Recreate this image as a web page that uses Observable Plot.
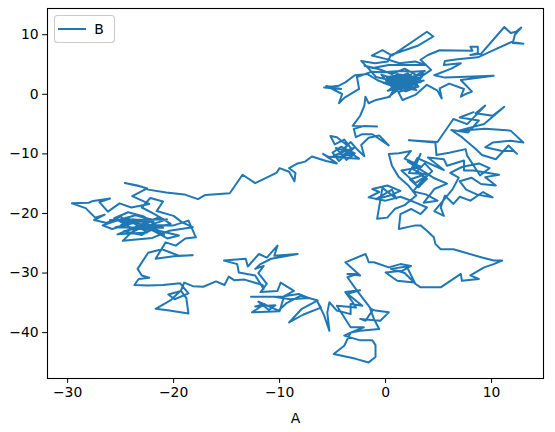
<!DOCTYPE html>
<html>
<head>
<meta charset="utf-8">
<script src="https://cdn.jsdelivr.net/npm/d3@7"></script>
<script src="https://cdn.jsdelivr.net/npm/@observablehq/plot@0.6"></script>
<style>
  html, body { margin: 0; padding: 0; background: #fff; }
  #chart { position: relative; width: 555px; height: 432px; }
</style>
</head>
<body>
<div id="chart"></div>
<script>
// Random walk (A, B), in segments.
const walkTop = [
  [0.3,-0.4],[1.2,0.8],[0.5,1.9],[1.8,2.4],[0.9,3.1],[2.3,1.7],[1.4,1.0],[2.6,2.6],[1.1,3.4],[0.2,2.2],
  [1.6,1.5],[2.9,2.0],[2.1,3.5],[0.7,2.6],[-0.4,3.3],[0.6,1.2],[1.9,0.5],[3.1,1.3],[2.4,2.9],[3.6,3.4],
  [2.7,1.1],[1.5,2.2],[0.3,1.6],[-0.8,2.4],[-1.7,3.4],[-2.9,3.2],[-3.8,2.0],[-4.4,1.45],[-5.8,1.15],[-4.2,0.9],
  [-5.6,1.4],[-4.1,0.05],[-4.4,-1.5],[-3.9,-0.6],[-2.5,0.9],[-2.7,2.9],[-1.3,3.8],[-0.2,3.7],[1.3,3.9],[2.6,3.8],
  [3.7,3.9],[2.9,3.2],[1.8,4.3],[0.6,3.4],[-0.6,4.2],[-2.0,4.8],[-1.2,4.4],[0.3,4.9],[2.0,4.9],[3.8,4.9],
  [2.8,5.5],[1.3,5.2],[0.1,5.9],[-1.3,6.5],[-0.3,7.4],[0.6,6.5],[3.9,10.5],[4.5,9.7],[3.1,8.2],[0.5,6.6],
  [0.2,5.5],[-1.0,5.2],[-2.3,5.6],[-1.6,4.3],[-0.9,2.9],[0.4,2.4],[1.4,2.9],[0.8,1.8],[2.2,1.2],[3.0,2.5],
  [1.7,3.0],[0.6,2.0],[2.0,2.7],[1.2,1.6],[2.8,1.6],[1.5,3.3],[0.1,2.9],[1.0,1.3],[2.5,2.2],[3.4,2.8],
  [1.0,2.6],[3.3,2.0],[0.4,3.0],[2.9,0.7],[0.9,1.4],[3.6,2.3],[0.2,0.6],[2.4,3.3],[-0.2,1.9],[1.7,1.0],
  [4.3,4.1],[3.3,5.8],[4.0,6.6],[5.1,7.4],[8.2,7.3],[8.0,8.0],[8.7,8.0],[8.7,6.9],[8.0,6.6],[9.0,6.8],
  [11.2,11.3],[11.8,10.3],[12.3,10.5],[12.8,11.2],[12.2,10.0],[12.0,8.6],[13.0,8.5],[11.9,8.8],[8.7,6.2],[6.8,5.9],
  [5.6,5.6],[5.5,4.9],[7.1,5.2],[6.2,4.3],[4.6,3.2],[5.6,2.8],[10.2,3.1],[7.1,2.4],[8.15,0.45],[7.5,0.0],
  [7.1,-0.4],[7.4,0.9],[6.0,1.8],[5.1,1.0],[5.3,-0.7],[4.9,0.6],[3.9,1.6],[2.8,-0.1],[1.6,-0.95],[1.2,0.4],
  [2.2,0.9],[1.0,2.1],[1.9,1.4],[0.7,0.6],[0.4,-0.4],[-0.9,-0.95],[-1.6,-1.5],[-1.9,-0.4],[-2.0,-1.9],[-2.4,-3.6],
  [-3.1,-5.3],[-0.8,-5.4]
];
const walkMid = [
  [-2.0,-5.3],[-3.0,-5.8],[-2.8,-7.2],[-2.2,-6.7],[-1.25,-6.7],[0.3,-8.6],[-0.6,-6.9],[-1.6,-7.3],[-2.3,-8.5],[-2.0,-10.4],
  [-2.6,-9.4],[-3.3,-8.0],[-4.0,-9.2],[-3.1,-10.3],[-4.4,-10.0],[-3.6,-8.6],[-4.6,-7.2],[-5.2,-7.0],[-4.8,-8.4],[-3.9,-7.6],
  [-3.2,-9.2],[-4.3,-10.6],[-2.5,-10.8],[-3.5,-9.6],[-4.7,-9.0],[-3.7,-11.0],[-2.9,-9.9],[-4.2,-8.8],[-5.0,-9.8],[-4.4,-11.2],
  [-3.0,-9.0],[-4.9,-10.3],[-3.4,-10.7],[-5.4,-10.5],[-5.9,-10.0],[-4.6,-11.6],[-5.6,-11.2],[-6.95,-10.45]
];
const walkLink = [
  [-7.6,-11.3],[-8.3,-11.6],[-9.1,-12.4],[-8.5,-13.2],[-8.6,-14.6],[-9.1,-13.0],[-10.0,-12.4],[-10.3,-13.2],[-12.3,-14.9],[-13.5,-13.5],
  [-14.7,-16.6],[-17.0,-16.9],[-17.7,-17.6],[-19.0,-16.8],[-20.7,-16.5],[-22.4,-16.0],[-23.0,-15.5],[-24.6,-14.9],[-23.4,-15.3]
];
const walkLeft = [
  [-22.5,-15.8],[-23.9,-17.1],[-22.3,-18.4],[-24.0,-19.0],[-25.1,-18.3],[-26.2,-19.7],[-27.0,-18.1],[-26.0,-17.5],[-27.6,-17.9],[-28.0,-18.2],
  [-29.6,-18.3],[-28.3,-19.1],[-27.4,-20.7],[-26.5,-20.2],[-27.5,-21.1],[-26.3,-21.6],[-25.0,-20.5],[-24.2,-21.8],[-25.8,-22.6],[-26.7,-22.0],
  [-25.2,-21.1],[-23.6,-20.3],[-22.1,-21.0],[-23.3,-22.4],[-24.7,-23.0],[-23.0,-23.6],[-21.5,-22.2],[-22.8,-20.5],[-24.3,-19.8],[-25.6,-20.8],
  [-24.0,-22.4],[-22.2,-22.8],[-20.3,-21.7],[-21.8,-20.1],[-23.0,-19.0],[-22.2,-17.4],[-21.0,-18.0],[-21.6,-19.6],[-20.0,-20.4],[-19.2,-21.5],
  [-18.2,-22.3],[-20.4,-22.9],[-22.0,-24.1],[-24.8,-24.6],[-24.0,-23.2],[-22.6,-22.0],[-21.2,-23.0],[-19.5,-23.7],[-20.6,-24.2],[-21.4,-23.4],
  [-23.5,-21.5],[-25.0,-22.0],[-23.9,-21.0],[-21.9,-21.4],[-24.8,-21.3],[-21.0,-22.4],[-25.5,-22.3],[-22.7,-21.2],[-26.0,-21.1],[-20.6,-21.0],
  [-23.8,-22.8],[-21.3,-20.6],[-25.3,-23.5],[-22.5,-23.2],[-24.5,-20.7],[-20.9,-23.6],[-23.1,-21.9],[-20.0,-22.0],[-18.6,-21.2],[-17.9,-24.0],
  [-18.9,-24.2],[-19.8,-25.4],[-20.75,-24.85],[-21.7,-27.6],[-20.0,-27.2],[-18.2,-27.0],[-19.5,-27.1],[-21.1,-26.0],[-22.4,-26.6],[-23.4,-29.3],
  [-23.0,-30.4],[-22.3,-30.8],[-23.3,-31.0],[-23.7,-32.0]
];
const walkLowLeft = [
  [-22.4,-32.1],[-21.0,-32.0],[-19.4,-31.7],[-18.6,-33.4],[-19.9,-34.4],[-20.5,-33.6],[-19.3,-33.0],[-18.8,-34.2],[-18.6,-36.8],[-20.4,-36.3],
  [-21.7,-36.0],[-20.3,-34.6],[-19.3,-32.9],[-19.0,-31.6],[-18.2,-32.2],[-17.2,-32.3],[-16.0,-31.4],[-15.2,-32.0],[-14.8,-30.6],[-14.3,-31.2],
  [-13.3,-31.1],[-12.4,-31.6],[-11.6,-32.0]
];
const walkLowMid = [
  [-11.5,-32.7],[-12.3,-30.4],[-13.85,-29.9],[-14.0,-28.5],[-15.25,-27.9],[-13.2,-27.6],[-13.0,-28.9],[-11.95,-26.8],[-11.2,-27.4],[-10.2,-25.4],
  [-10.5,-27.1],[-8.3,-26.8],[-10.8,-27.6],[-11.8,-28.5],[-12.3,-29.3],[-11.5,-28.8],[-12.0,-30.0],[-11.2,-31.8],[-11.8,-33.2],[-10.2,-33.0],
  [-9.9,-31.6],[-8.65,-33.0],[-9.6,-33.9],[-8.2,-33.5],[-7.2,-34.2],[-9.0,-34.4],[-10.5,-34.0],[-12.7,-34.0],[-9.6,-34.0],[-10.0,-36.4],
  [-12.6,-36.6],[-11.4,-35.2],[-12.3,-35.6],[-10.4,-35.4],[-11.0,-36.2],[-12.0,-34.8],[-10.1,-36.3],[-9.3,-35.0],[-8.0,-33.8],[-6.4,-34.6],
  [-7.9,-36.0],[-9.1,-38.3],[-7.8,-37.0],[-6.1,-35.8],[-6.4,-34.9],[-5.8,-37.1],[-5.3,-39.7],[-5.5,-36.6],[-5.3,-34.9],[-4.6,-36.3],
  [-3.3,-36.9],[-3.3,-35.2],[-2.2,-35.5],[-3.6,-33.5],[-2.4,-32.9],[-3.8,-33.2],[-3.1,-34.9],[-2.8,-35.8],[-4.6,-35.5],[-3.3,-39.1]
];
const walkBottom = [
  [-2.05,-39.1],[-3.3,-40.0],[-3.9,-40.5],[-2.4,-41.3],[-1.25,-41.3],[-0.95,-42.1],[-0.95,-44.1],[-1.6,-45.0],[-2.8,-44.4],[-4.9,-43.6],
  [-3.9,-42.2],[-3.3,-40.0],[-2.4,-39.7],[-0.6,-39.4],[-1.1,-37.7],[-1.45,-36.0],[-0.95,-36.3],[0.3,-36.6],[-0.5,-38.0],[-2.4,-37.7],
  [-1.9,-38.0],[-1.25,-36.3],[-2.7,-32.95],[-3.6,-30.7],[-2.7,-30.15],[-3.6,-30.15],[-2.4,-30.4],[-3.8,-28.2],[-1.9,-26.8],[-1.7,-27.6],
  [-1.6,-28.2],[-1.1,-28.2],[0.3,-29.05],[1.4,-28.5],[2.4,-28.8],[1.6,-29.6],[0.0,-29.9],[1.1,-31.3],[2.7,-31.6],[1.8,-30.0],
  [0.5,-29.3],[2.0,-28.9],[2.8,-31.8],[3.3,-32.4],[5.2,-32.4],[7.1,-30.15],[7.2,-31.3],[8.8,-31.0],[8.0,-30.4],[9.3,-29.05],
  [10.2,-28.5],[11.0,-27.9],[10.2,-27.9],[9.1,-27.4],[6.4,-26.0],[5.2,-26.0],[4.7,-25.1],[4.55,-24.0],[3.9,-22.9]
];
const walkRight = [
  [3.3,-22.0],[2.8,-22.0],[1.25,-22.6],[1.4,-20.1],[2.4,-19.25],[3.3,-20.1],[3.9,-19.0],[2.6,-18.0],[1.4,-17.2],[0.0,-17.85],
  [-1.6,-17.3],[-0.6,-16.4],[-1.25,-15.9],[0.16,-15.3],[1.4,-16.2],[0.4,-17.0],[-0.9,-17.6],[0.6,-16.0],[1.0,-17.5],[-0.3,-15.7],
  [-0.8,-20.9],[0.16,-20.7],[0.9,-19.2],[1.8,-18.6],[2.9,-17.0],[2.2,-15.4],[1.25,-13.9],[0.6,-12.0],[0.3,-10.0],[1.25,-9.9],
  [2.4,-9.5],[1.8,-10.8],[2.9,-11.7],[3.3,-10.0],[2.6,-12.6],[3.6,-13.5],[2.3,-14.3],[3.1,-15.6],[3.9,-14.2],[2.9,-13.0],
  [3.7,-11.6],[4.4,-12.9],[3.3,-14.8],[2.6,-16.3],[3.8,-16.8],[4.9,-17.85],[3.6,-18.2],[4.6,-15.9],[5.8,-15.0],[4.5,-14.0],
  [2.1,-11.3],[3.4,-12.2],[1.5,-12.8],[2.8,-14.9],[4.1,-13.4],[2.2,-13.2],[3.0,-10.7],
  [5.5,-12.7],[4.0,-10.6],[5.5,-10.9],[5.8,-12.0],[7.4,-11.1],[7.4,-12.8],[8.3,-12.8],[10.7,-13.5],[9.4,-13.9],[10.4,-15.3],
  [9.0,-15.05],[8.1,-14.0],[7.0,-14.6],[7.6,-16.0],[8.6,-16.8],[10.1,-17.3],[9.2,-16.4],[8.0,-17.85],[7.0,-17.2],[6.4,-18.4],
  [5.6,-17.0],[5.2,-19.0],[5.5,-20.4],[4.6,-19.6],[6.3,-16.0],[6.9,-14.0],[6.1,-13.2],[7.2,-12.2],[8.8,-11.6],[9.8,-12.4],
  [8.9,-13.6],[7.7,-10.3],[7.55,-9.2],[6.0,-9.8],[4.8,-10.2],[4.7,-8.1],[2.2,-7.7],[4.9,-8.0],[6.4,-4.15],[7.7,-5.0],
  [9.4,-1.9],[8.5,-3.2],[10.1,-3.6],[11.2,-2.1],[9.3,-5.0],[6.9,-6.1],[9.4,-5.8],[11.8,-6.1],[13.0,-8.1],[11.8,-7.8],
  [10.1,-8.1],[9.4,-8.9],[11.0,-9.5],[12.1,-9.5],[12.4,-10.0],[11.6,-8.6],[10.4,-10.9],[9.1,-10.2],[8.4,-9.0],[7.2,-7.2],
  [6.2,-6.0],[7.8,-6.4],[8.8,-4.4],[7.0,-3.9],[8.3,-3.0]
];

const xTicks = [-30, -20, -10, 0, 10];
const yTicks = [10, 0, -10, -20, -30, -40];

const walk = [walkTop, walkMid, walkLink, walkLeft, walkLowLeft, walkLowMid, walkBottom, walkRight]
  .flat()
  .map(([A, B]) => ({A, B}));

const fmt = d3.format("d");
const chart = Plot.plot({
  width: 555,
  height: 432,
  marginLeft: 47,
  marginRight: 12,
  marginTop: 8,
  marginBottom: 54,
  style: {fontFamily: "DejaVu Sans", fontSize: "13.9px", color: "black", background: "white"},
  x: {domain: [-31.9, 14.9], ticks: xTicks, tickFormat: fmt, tickSize: 4.9, tickPadding: 4,
      label: "A", labelAnchor: "center", labelArrow: "none", labelOffset: 44},
  y: {domain: [-47.7, 14.4], ticks: yTicks, tickFormat: fmt, tickSize: 4.9, tickPadding: 4, label: null},
  marks: [
    Plot.line(walk, {x: "A", y: "B", stroke: "#1f77b4", strokeWidth: 2, strokeLinejoin: "round"}),
    Plot.frame({stroke: "black", strokeWidth: 1.1})
  ]
});
document.getElementById("chart").appendChild(chart);

// legend (matplotlib style, upper left)
const svg = d3.select(chart);
const lg = svg.append("g");
lg.append("rect").attr("x", 54.5).attr("y", 15.5).attr("width", 60).attr("height", 27)
  .attr("rx", 3).attr("fill", "white").attr("fill-opacity", 0.8)
  .attr("stroke", "#cccccc").attr("stroke-width", 1.1);
lg.append("line").attr("x1", 58).attr("x2", 86).attr("y1", 29).attr("y2", 29)
  .attr("stroke", "#1f77b4").attr("stroke-width", 2);
lg.append("text").attr("x", 99).attr("y", 29).attr("dy", "0.35em")
  .attr("font-size", 13.9).attr("fill", "black").text("B");
</script>
</body>
</html>
